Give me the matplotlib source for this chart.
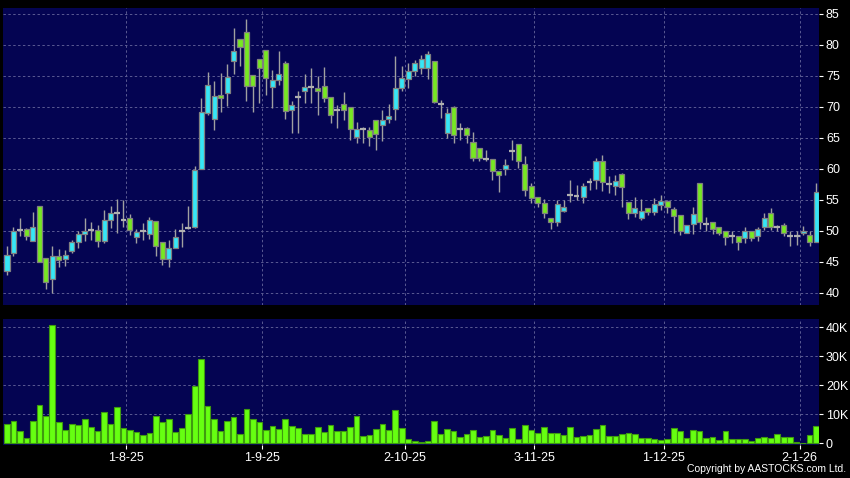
import numpy as np
import matplotlib.pyplot as plt

plt.rcParams['font.family'] = ['Liberation Sans', 'DejaVu Sans']

# daily OHLC (bar index 0 .. 125)
opens = [43.6, 46.5, 50.1, 50.3, 48.3, 54.0, 45.6, 42.2, 45.9, 45.4,
         46.7, 48.2, 49.5, 50.1, 50.1, 48.3, 51.7, 52.8, 51.8, 52.0,
         49.0, 50.0, 49.5, 51.6, 48.2, 45.4, 47.2, 49.9, 50.5, 50.6,
         59.9, 69.0, 68.0, 71.9, 72.2, 77.3, 80.9, 82.0, 75.1, 77.7,
         79.1, 73.2, 74.3, 77.0, 69.4, 71.5, 72.5, 73.2, 73.0, 73.4,
         71.6, 69.5, 70.4, 69.9, 65.2, 66.4, 66.2, 67.8, 67.0, 68.0,
         69.7, 73.0, 74.5, 75.7, 76.2, 76.2, 77.4, 70.5, 65.8, 69.9,
         66.4, 66.6, 64.3, 63.3, 61.6, 61.6, 59.7, 59.9, 62.9, 64.0,
         60.7, 57.3, 55.4, 54.5, 52.0, 51.4, 53.2, 55.8, 55.6, 55.5,
         57.8, 58.2, 61.3, 57.5, 57.3, 59.1, 54.7, 52.9, 52.0, 53.7,
         53.0, 54.2, 54.8, 53.5, 52.5, 49.7, 51.1, 57.7, 51.1, 51.5,
         50.7, 49.9, 49.1, 49.1, 48.8, 50.0, 49.1, 50.6, 52.9, 50.6,
         51.0, 49.1, 49.1, 49.6, 49.4, 48.2]
highs = [47.5, 50.7, 52.0, 50.4, 53.0, 54.0, 45.6, 47.6, 47.0, 46.9,
         48.5, 49.9, 52.0, 51.4, 51.0, 53.3, 54.0, 55.1, 55.0, 52.7,
         50.3, 51.2, 52.2, 51.6, 48.2, 48.5, 50.3, 51.2, 54.0, 60.4,
         71.4, 75.6, 74.1, 75.4, 76.9, 82.7, 80.9, 84.2, 75.1, 77.7,
         79.1, 76.0, 79.0, 77.4, 71.0, 72.5, 75.2, 76.2, 74.9, 76.4,
         71.6, 70.3, 72.3, 69.9, 67.6, 66.8, 66.7, 67.8, 69.4, 70.4,
         78.2, 76.6, 77.0, 77.5, 78.4, 79.0, 77.4, 71.1, 69.8, 70.2,
         67.4, 66.8, 66.0, 63.3, 63.1, 61.6, 59.7, 61.6, 64.7, 64.0,
         62.1, 57.7, 55.4, 55.1, 52.0, 55.0, 55.0, 58.2, 57.4, 57.7,
         58.5, 61.7, 62.3, 58.8, 59.0, 59.4, 54.7, 55.4, 55.1, 53.7,
         55.3, 55.8, 55.0, 53.9, 52.5, 51.0, 53.8, 57.7, 52.3, 51.5,
         50.7, 49.9, 49.9, 49.1, 50.6, 50.0, 50.7, 52.9, 53.7, 51.0,
         51.2, 49.9, 49.9, 50.8, 49.9, 57.7]
lows = [42.9, 46.0, 49.2, 48.6, 48.3, 45.0, 40.7, 40.0, 44.1, 44.3,
        46.4, 47.3, 48.4, 48.6, 47.4, 48.0, 50.4, 49.7, 50.7, 49.4,
        48.0, 48.6, 48.7, 45.9, 44.5, 44.2, 47.2, 47.4, 50.3, 50.4,
        59.9, 68.7, 66.3, 69.1, 70.1, 75.2, 76.5, 71.0, 69.1, 70.6,
        71.9, 69.8, 73.5, 68.1, 65.7, 65.8, 70.6, 70.6, 68.7, 70.7,
        67.4, 66.6, 67.9, 64.7, 64.2, 64.1, 63.6, 63.1, 64.5, 67.4,
        67.9, 72.5, 73.0, 74.9, 75.2, 74.4, 70.6, 68.2, 65.0, 64.1,
        64.7, 64.1, 61.2, 61.2, 61.2, 58.2, 56.3, 59.0, 61.5, 60.1,
        55.6, 54.5, 53.9, 52.0, 50.3, 50.8, 53.1, 54.7, 55.0, 54.5,
        56.6, 56.7, 56.5, 56.1, 55.8, 53.9, 51.9, 52.3, 51.8, 52.6,
        52.6, 53.4, 52.9, 49.7, 49.4, 49.6, 49.5, 50.3, 49.9, 49.5,
        49.4, 47.7, 48.1, 46.9, 48.0, 48.3, 48.3, 50.2, 50.2, 49.9,
        49.1, 47.5, 47.7, 49.4, 47.5, 48.2]
closes = [46.1, 49.9, 50.1, 49.2, 50.6, 45.0, 41.7, 45.9, 45.3, 46.1,
          48.2, 49.5, 49.9, 50.1, 48.3, 51.7, 52.9, 52.8, 51.8, 50.1,
          49.8, 50.0, 51.7, 47.5, 45.4, 47.2, 49.0, 49.9, 50.5, 59.8,
          69.1, 73.5, 71.7, 71.4, 74.8, 79.0, 79.7, 73.4, 73.4, 76.2,
          74.7, 74.3, 75.3, 69.3, 70.3, 71.5, 73.2, 73.2, 72.5, 71.4,
          68.7, 69.5, 69.5, 66.4, 66.4, 66.4, 65.1, 65.6, 67.8, 68.5,
          73.0, 74.6, 75.7, 77.0, 77.7, 78.5, 70.8, 70.5, 69.0, 65.4,
          66.4, 65.4, 61.7, 61.7, 61.6, 59.7, 59.0, 60.6, 62.9, 61.2,
          56.6, 55.3, 54.5, 52.8, 51.4, 54.3, 53.8, 55.8, 55.6, 57.2,
          57.8, 61.2, 57.9, 57.5, 58.0, 57.0, 52.9, 53.7, 53.2, 53.0,
          54.3, 54.8, 53.8, 52.4, 49.9, 51.0, 52.7, 51.4, 51.1, 50.3,
          49.7, 49.0, 49.1, 48.2, 50.0, 48.9, 50.3, 52.0, 50.6, 50.6,
          49.6, 49.1, 49.1, 50.0, 48.2, 56.2]
# volume in thousands of shares
volumes = [6.7, 7.5, 4.3, 1.7, 7.6, 13.2, 9.4, 40.6, 7.4, 4.6,
           6.7, 6.4, 8.4, 5.6, 4.1, 10.8, 6.7, 12.5, 5.2, 4.6,
           4.0, 2.8, 3.4, 9.4, 7.4, 8.2, 3.9, 5.3, 10.2, 19.7,
           28.9, 12.8, 8.4, 4.1, 7.6, 9.1, 3.1, 11.8, 8.2, 7.4,
           4.6, 6.1, 4.9, 8.3, 6.0, 5.4, 3.3, 3.1, 5.7, 3.9,
           6.3, 4.1, 4.1, 5.7, 9.3, 2.4, 2.8, 4.8, 6.6, 4.7,
           11.4, 5.3, 1.4, 0.8, 0.6, 0.9, 7.6, 3.3, 4.9, 4.1,
           2.1, 3.2, 4.6, 2.3, 2.6, 4.5, 3.0, 1.8, 5.3, 1.5,
           6.2, 4.4, 3.7, 5.7, 3.7, 3.4, 2.9, 5.5, 2.3, 2.6,
           2.9, 4.9, 6.3, 2.6, 2.6, 3.2, 3.6, 3.1, 1.8, 1.8,
           1.6, 1.1, 1.5, 5.4, 4.3, 1.7, 4.4, 4.3, 1.8, 2.2,
           1.0, 4.3, 1.6, 1.4, 1.4, 0.8, 1.8, 2.1, 1.7, 3.2,
           2.0, 2.0, 0.5, 0.1, 3.0, 6.0]

tick_idx = [18, 39, 61, 81, 101, 122]
tick_labels = ["1-8-25", "1-9-25", "2-10-25", "3-11-25", "1-12-25", "2-1-26"]
price_ticks = [40, 45, 50, 55, 60, 65, 70, 75, 80, 85]
vol_ticks = [0, 10, 20, 30, 40]
vol_labels = ["0", "10K", "20K", "30K", "40K"]

BG = "#040452"
GRID = "#5a5a92"
UP = "#36e6f6"
DOWN = "#77e822"
DOJI = "#b0b0b0"
EDGE = "#808080"

o = np.array(opens)
h = np.array(highs)
l = np.array(lows)
c = np.array(closes)
x = np.arange(len(o))

fig = plt.figure(figsize=(8.5, 4.78), dpi=100, facecolor="black")
ax = fig.add_axes([0.0035, 0.362, 0.96, 0.622])
axv = fig.add_axes([0.0035, 0.069, 0.96, 0.264])

grid_x = [t + 0.45 for t in tick_idx]

for a in (ax, axv):
    a.set_facecolor(BG)
    for s in a.spines.values():
        s.set_visible(False)
    a.set_xlim(-0.62, 125.45)
    a.yaxis.tick_right()
    a.tick_params(axis="y", colors="white", labelsize=9, length=3, width=0.8, pad=2)
    a.set_axisbelow(True)
    for gx in grid_x:
        a.axvline(gx, color=GRID, lw=0.7, ls=(0, (2.5, 2.5)), zorder=0)

# price panel
ax.set_ylim(38.06, 85.97)
ax.set_yticks(price_ticks)
for p in price_ticks:
    ax.axhline(p, color=GRID, lw=0.7, ls=(0, (2.5, 2.5)), zorder=0)
ax.set_xticks([])

ax.vlines(x, l, h, color="#a0a0a0", lw=1, zorder=2)
up = c > o
dn = c < o
eq = c == o
ax.bar(x[up], (c - o)[up], bottom=o[up], width=0.78, color=UP,
       edgecolor=EDGE, linewidth=0.9, zorder=3)
ax.bar(x[dn], (o - c)[dn], bottom=c[dn], width=0.78, color=DOWN,
       edgecolor=EDGE, linewidth=0.9, zorder=3)
ax.hlines(c[eq], x[eq] - 0.45, x[eq] + 0.45, color=DOJI, lw=1.6, zorder=3)

# volume panel
axv.set_ylim(-0.6, 42.86)
axv.set_yticks(vol_ticks)
axv.set_yticklabels(vol_labels)
for v in vol_ticks[1:]:
    axv.axhline(v, color=GRID, lw=0.7, ls=(0, (2.5, 2.5)), zorder=0)
axv.bar(x, volumes, width=0.88, color="#66ff11", edgecolor="#3f9a10",
        linewidth=0.8, zorder=3)
axv.set_xticks(grid_x)
axv.set_xticklabels(tick_labels)
axv.tick_params(axis="x", colors="white", labelsize=9, length=3, width=0.8, pad=2)

fig.text(0.995, 0.008, "Copyright by AASTOCKS.com Ltd.", color="white",
         fontsize=7.5, ha="right", va="bottom")

fig.savefig("out.png", dpi=100, facecolor="black")
